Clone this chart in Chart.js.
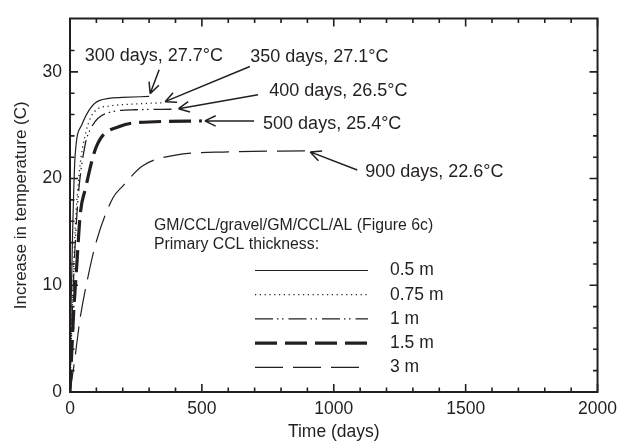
<!DOCTYPE html>
<html>
<head>
<meta charset="utf-8">
<script src="https://cdn.jsdelivr.net/npm/chart.js@4.4.0/dist/chart.umd.min.js"></script>
<style>
  html, body { margin: 0; padding: 0; background: #fff; }
</style>
</head>
<body>
<canvas id="chartTemp" width="624" height="446"></canvas>
<script>
// --- Temperature rise vs time, GM/CCL/gravel/GM/CCL/AL liner ---
const days05 = [0, 4, 10, 19, 44, 110, 200, 300];
const temp05 = [0, 8, 15, 22, 25, 27.3, 27.6, 27.7];

const days075 = [0, 10, 20, 35, 50, 90, 150, 250, 350];
const temp075 = [0, 9, 15.5, 20.5, 23.2, 26.2, 26.8, 27.0, 27.1];

const days1 = [0, 8, 18, 30, 56, 81, 150, 250, 400];
const temp1 = [0, 7, 13, 18, 23, 24.8, 26.2, 26.45, 26.5];

const days15 = [0, 8, 14, 26, 39, 58, 100, 190, 300, 500];
const temp15 = [0, 4.5, 7.5, 12, 16.7, 19, 23, 24.9, 25.3, 25.4];

const days3 = [0, 15, 39, 70, 101, 163, 200, 276, 400, 600, 900];
const temp3 = [0, 2.5, 7, 11, 14.2, 18.2, 19.3, 21.2, 22.2, 22.5, 22.6];

const thicknessLabels = ["0.5 m", "0.75 m", "1 m", "1.5 m", "3 m"];
const legendTitle = ["GM/CCL/gravel/GM/CCL/AL (Figure 6c)", "Primary CCL thickness:"];

// call-outs: text, where the text starts (day, temp), where the arrow tail sits
const noteLabels = ["300 days, 27.7°C", "350 days, 27.1°C", "400 days, 26.5°C", "500 days, 25.4°C", "900 days, 22.6°C"];
const noteTextAt = [[56, 31.5], [683, 31.4], [755, 28.2], [732, 25.1], [1119, 20.6]];
const noteTailAt = [[338, 30.2], [682, 30.5], [713, 27.85], [698, 25.4], [1089, 20.8]];

const INK = "#231f20";
const FONT = '"Liberation Sans", Arial, Helvetica, sans-serif';

const pts = (xs, ys) => xs.map((d, i) => ({ x: d, y: ys[i] }));

function line(label, data, width, dash) {
  return {
    label,
    data,
    borderColor: INK,
    borderWidth: width,
    borderDash: dash,
    pointRadius: 0,
    fill: false,
    cubicInterpolationMode: "monotone",
  };
}

// --- frame, inward ticks, call-outs and legend ---
const framePlugin = {
  id: "frameAndNotes",
  afterDatasetsDraw(chart) {
    const { ctx, chartArea: a, scales } = chart;
    const x = scales.x, y = scales.y;
    ctx.save();
    ctx.strokeStyle = INK;
    ctx.setLineDash([]);
    ctx.lineWidth = 2;
    ctx.strokeRect(a.left, a.top, a.right - a.left, a.bottom - a.top);

    ctx.lineWidth = 1.6;
    ctx.beginPath();
    x.ticks.forEach((t) => {
      if (t.value % 100) return;
      const px = x.getPixelForValue(t.value);
      const len = t.value % 500 === 0 ? 8 : 4.5;
      ctx.moveTo(px, a.bottom); ctx.lineTo(px, a.bottom - len);
      ctx.moveTo(px, a.top); ctx.lineTo(px, a.top + len);
    });
    y.ticks.forEach((t) => {
      if (t.value % 2) return;
      const py = y.getPixelForValue(t.value);
      const len = t.value % 10 === 0 ? 8 : 4.5;
      ctx.moveTo(a.left, py); ctx.lineTo(a.left + len, py);
      ctx.moveTo(a.right, py); ctx.lineTo(a.right - len, py);
    });
    ctx.stroke();

    // arrows pointing at the end of each curve
    ctx.fillStyle = INK;
    ctx.textBaseline = "middle";
    ctx.textAlign = "left";
    ctx.font = "18px " + FONT;
    ctx.lineWidth = 1.5;
    noteLabels.forEach((txt, i) => {
      const d = chart.data.datasets[i].data;
      const end = d[d.length - 1];
      const sx = x.getPixelForValue(noteTailAt[i][0]);
      const sy = y.getPixelForValue(noteTailAt[i][1]);
      let tx = x.getPixelForValue(end.x);
      let ty = y.getPixelForValue(end.y);
      const ang = Math.atan2(ty - sy, tx - sx);
      tx -= 3 * Math.cos(ang);
      ty -= 3 * Math.sin(ang);
      ctx.beginPath();
      ctx.moveTo(sx, sy);
      ctx.lineTo(tx, ty);
      [0.45, -0.45].forEach((da) => {
        ctx.moveTo(tx, ty);
        ctx.lineTo(tx - 12 * Math.cos(ang + da), ty - 12 * Math.sin(ang + da));
      });
      ctx.stroke();
      ctx.fillText(txt, x.getPixelForValue(noteTextAt[i][0]), y.getPixelForValue(noteTextAt[i][1]));
    });

    // legend block
    ctx.font = "15.8px " + FONT;
    ctx.fillText(legendTitle[0], a.left + 84, a.top + 207);
    ctx.fillText(legendTitle[1], a.left + 84, a.top + 226);
    ctx.font = "17.5px " + FONT;
    chart.data.datasets.forEach((ds, i) => {
      const ry = a.top + 252 + i * 24.2;
      ctx.beginPath();
      ctx.lineWidth = ds.borderWidth;
      ctx.setLineDash(ds.borderDash || []);
      ctx.moveTo(a.left + 185, ry);
      ctx.lineTo(a.left + 298, ry);
      ctx.stroke();
      ctx.setLineDash([]);
      ctx.fillText(thicknessLabels[i], a.left + 320, ry);
    });
    ctx.restore();
  },
};

new Chart(document.getElementById("chartTemp"), {
  type: "line",
  data: {
    datasets: [
      line(thicknessLabels[0], pts(days05, temp05), 1.2, []),
      line(thicknessLabels[1], pts(days075, temp075), 1.3, [1.2, 3.6]),
      line(thicknessLabels[2], pts(days1, temp1), 1.3, [18, 4, 1.5, 3.5, 1.5, 5]),
      line(thicknessLabels[3], pts(days15, temp15), 3.2, [22, 8]),
      line(thicknessLabels[4], pts(days3, temp3), 1.2, [28, 10]),
    ],
  },
  options: {
    responsive: false,
    animation: false,
    devicePixelRatio: 1,
    layout: { padding: { top: 12, right: 22, left: 0, bottom: 0 } },
    plugins: { legend: { display: false }, tooltip: { enabled: false } },
    scales: {
      x: {
        type: "linear",
        min: 0,
        max: 2000,
        grid: { display: false, drawTicks: false },
        border: { display: false },
        ticks: {
          stepSize: 100,
          autoSkip: false,
          maxRotation: 0,
          padding: 7,
          color: INK,
          font: { family: FONT, size: 17.5 },
          callback: (v) => (v % 500 === 0 ? v : ""),
        },
        title: {
          display: true,
          text: "Time (days)",
          color: INK,
          font: { family: FONT, size: 17.5 },
          padding: { top: 0, bottom: 3 },
        },
        afterFit: (s) => { s.height = 54; },
      },
      y: {
        type: "linear",
        min: 0,
        max: 35,
        grid: { display: false, drawTicks: false },
        border: { display: false },
        ticks: {
          stepSize: 2,
          autoSkip: false,
          padding: 8,
          color: INK,
          font: { family: FONT, size: 17.5 },
          callback: (v) => (v % 10 === 0 ? v : ""),
        },
        title: {
          display: true,
          text: "Increase in temperature (C)",
          color: INK,
          font: { family: FONT, size: 17 },
          padding: { top: 11, bottom: 0 },
        },
        afterFit: (s) => { s.width = 70; },
      },
    },
  },
  plugins: [framePlugin],
});
</script>
</body>
</html>
